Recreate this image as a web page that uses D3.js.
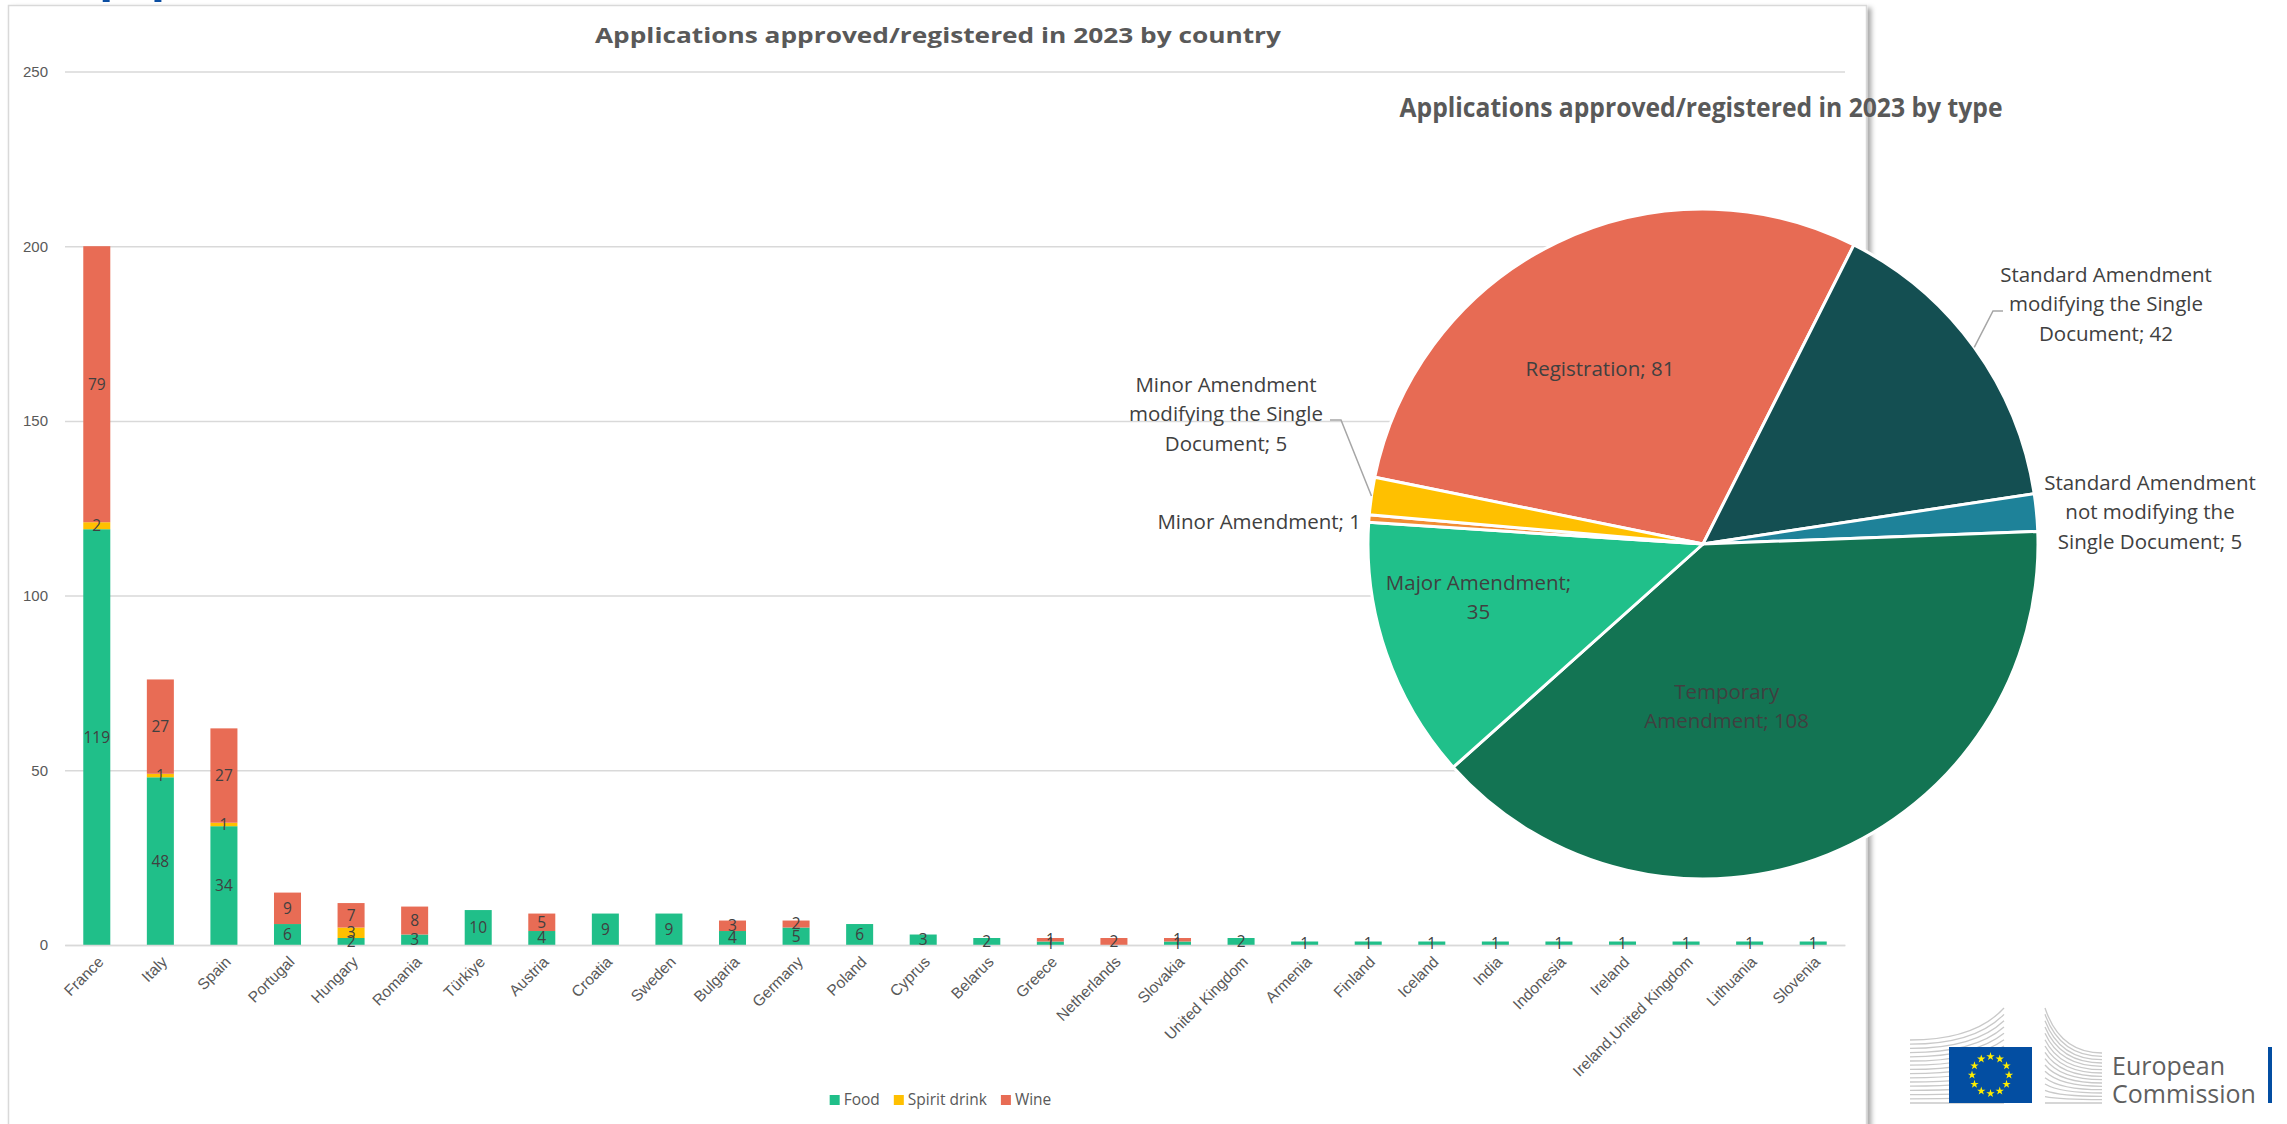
<!DOCTYPE html>
<html>
<head>
<meta charset="utf-8">
<script src="https://cdn.jsdelivr.net/npm/d3@7"></script>
<style>
  body { margin: 0; background: #fff; }
  svg { display: block; font-family: 'Open Sans', 'Noto Sans', sans-serif; }
</style>
</head>
<body>
<div id="vis"></div>
<script>
// bar chart data
const countries = ['France', 'Italy', 'Spain', 'Portugal', 'Hungary', 'Romania', 'Türkiye', 'Austria',
  'Croatia', 'Sweden', 'Bulgaria', 'Germany', 'Poland', 'Cyprus', 'Belarus', 'Greece', 'Netherlands',
  'Slovakia', 'United Kingdom', 'Armenia', 'Finland', 'Iceland', 'India', 'Indonesia', 'Ireland',
  'Ireland,United Kingdom', 'Lithuania', 'Slovenia'];
const food = [119, 48, 34, 6, 2, 3, 10, 4, 9, 9, 4, 5, 6, 3, 2, 1, 0, 1, 2, 1, 1, 1, 1, 1, 1, 1, 1, 1];
const spirit = [2, 1, 1, 0, 3, 0, 0, 0, 0, 0, 0, 0, 0, 0, 0, 0, 0, 0, 0, 0, 0, 0, 0, 0, 0, 0, 0, 0];
const wine = [79, 27, 27, 9, 7, 8, 0, 5, 0, 0, 3, 2, 0, 0, 0, 1, 2, 1, 0, 0, 0, 0, 0, 0, 0, 0, 0, 0];
const seriesNames = ['Food', 'Spirit drink', 'Wine'];
const yTicks = [0, 50, 100, 150, 200, 250];

// pie chart data
const types = ['Registration', 'Standard Amendment modifying the Single Document',
  'Standard Amendment not modifying the Single Document', 'Temporary Amendment',
  'Major Amendment', 'Minor Amendment', 'Minor Amendment modifying the Single Document'];
const typeCounts = [81, 42, 5, 108, 35, 1, 5];

const barColors = { 'Food': '#20bf89', 'Spirit drink': '#ffc000', 'Wine': '#e86c55' };
const pieColors = ['#e76b54', '#144f52', '#1e8299', '#137453', '#20c08a', '#f18c33', '#ffc000'];

// label placement for the pie (styling, relative to centroid or centre)
const pieLabels = [
  { wrap: 30, mode: 'in', k: 0.63, dx: -11, dy: 15 },
  { wrap: 20, mode: 'out', dx: 403, dy: -240, leader: [290, -233, 300] },
  { wrap: 20, mode: 'out', dx: 447, dy: -32 },
  { wrap: 14, mode: 'in', k: 0.5, dx: -39, dy: 7 },
  { wrap: 16, mode: 'in', k: 0.69, dx: -6, dy: -22 },
  { wrap: 30, mode: 'out', dx: -342, dy: -22, anchor: 'end' },
  { wrap: 20, mode: 'out', dx: -477, dy: -130, leader: [-362, -124, -373] }
];

const W = 2287, H = 1124;
const svg = d3.select('#vis').append('svg').attr('width', W).attr('height', H);

const defs = svg.append('defs');
defs.append('filter').attr('id', 'shadow').attr('x', '-5%').attr('y', '-5%').attr('width', '110%').attr('height', '110%')
  .append('feDropShadow')
  .attr('dx', 4).attr('dy', 3).attr('stdDeviation', 2.5)
  .attr('flood-color', '#000').attr('flood-opacity', 0.35);

// slide title peeking at the very top
svg.append('text')
  .attr('x', 42).attr('y', -21)
  .attr('textLength', 1240).attr('lengthAdjust', 'spacingAndGlyphs')
  .style('font-size', '95px').style('font-weight', 400).attr('fill', '#0b4ea2')
  .text('Applications in 2023 – EU (total)');

// chart frame
svg.append('rect')
  .attr('x', 8.5).attr('y', 5.5).attr('width', 1858).attr('height', 1250)
  .attr('fill', '#fff').attr('stroke', '#d9d9d9').attr('stroke-width', 1.5)
  .attr('filter', 'url(#shadow)');

svg.append('text')
  .attr('x', 938).attr('y', 43).attr('text-anchor', 'middle')
  .attr('textLength', 686).attr('lengthAdjust', 'spacingAndGlyphs')
  .style('font-size', '22px').style('font-weight', 700).attr('fill', '#595959')
  .text('Applications approved/registered in 2023 by country');

// ---- stacked bars ----
const plot = { left: 65, right: 1845, top: 71.5, bottom: 945 };

const x = d3.scaleBand()
  .domain(countries)
  .range([plot.left, plot.right])
  .paddingInner(0.575)
  .paddingOuter(0.2875);

const y = d3.scaleLinear().domain([0, 250]).range([plot.bottom, plot.top]);

const yAxis = svg.append('g')
  .attr('transform', `translate(${plot.left}, 0)`)
  .call(d3.axisLeft(y).tickValues(yTicks).tickSize(-(plot.right - plot.left)).tickPadding(17));
yAxis.select('.domain').remove();
yAxis.selectAll('line').attr('stroke', '#d9d9d9').attr('stroke-width', 1.5);
yAxis.selectAll('text').attr('fill', '#595959').style('font-size', '15px').style('font-family', null);

const rows = countries.map((c, i) => ({ country: c, 'Food': food[i], 'Spirit drink': spirit[i], 'Wine': wine[i] }));
const stacked = d3.stack().keys(seriesNames)(rows);

const layers = svg.append('g').selectAll('g.layer')
  .data(stacked)
  .join('g')
  .attr('class', 'layer')
  .attr('fill', d => barColors[d.key]);

layers.selectAll('rect')
  .data(d => d)
  .join('rect')
  .attr('x', d => x(d.data.country))
  .attr('width', x.bandwidth())
  .attr('y', d => y(d[1]))
  .attr('height', d => y(d[0]) - y(d[1]));

const xAxis = svg.append('g')
  .attr('transform', `translate(0, ${plot.bottom})`)
  .call(d3.axisBottom(x).tickSize(0).tickSizeOuter(0));
xAxis.select('.domain').attr('stroke', '#d9d9d9').attr('stroke-width', 1.5);
xAxis.selectAll('text')
  .attr('fill', '#595959').style('font-size', '15.5px').style('font-family', null)
  .attr('text-anchor', 'end')
  .attr('transform', 'translate(4, 14) rotate(-45)')
  .attr('y', 0).attr('dy', '0.35em');

// segment labels
const segLabels = svg.append('g')
  .style('font-size', '15.5px').attr('fill', '#404040').attr('text-anchor', 'middle');
stacked.forEach(layer => {
  segLabels.selectAll(null)
    .data(layer.filter(d => d[1] - d[0] > 0))
    .join('text')
    .attr('x', d => x(d.data.country) + x.bandwidth() / 2)
    .attr('y', d => (y(d[0]) + y(d[1])) / 2)
    .attr('dy', '0.35em')
    .text(d => d[1] - d[0]);
});

// legend
const legend = svg.append('g').style('font-size', '15.5px');
let lx = 0;
seriesNames.forEach(name => {
  const item = legend.append('g').attr('transform', `translate(${lx}, 0)`);
  item.append('rect').attr('x', 0).attr('y', -5).attr('width', 10).attr('height', 10).attr('fill', barColors[name]);
  const t = item.append('text').attr('x', 14).attr('dy', '0.35em').attr('fill', '#595959').text(name);
  lx += 14 + t.node().getComputedTextLength() + 14;
});
legend.attr('transform', `translate(${940.5 - (lx - 14) / 2}, 1100)`);

// ---- pie ----
const pc = { x: 1703, y: 544 };
const radius = 335;
const deg = Math.PI / 180;

const pie = d3.pie().sort(null).startAngle(-78.5 * deg).endAngle(281.5 * deg);
const arcs = pie(typeCounts);
const arc = d3.arc().innerRadius(0).outerRadius(radius);

const pieG = svg.append('g').attr('transform', `translate(${pc.x}, ${pc.y})`);
pieG.selectAll('path')
  .data(arcs)
  .join('path')
  .attr('d', arc)
  .attr('fill', (d, i) => pieColors[i])
  .attr('stroke', '#fff').attr('stroke-width', 3).attr('stroke-linejoin', 'round');

svg.append('text')
  .attr('x', 1701).attr('y', 117).attr('text-anchor', 'middle')
  .attr('textLength', 603).attr('lengthAdjust', 'spacingAndGlyphs')
  .style('font-size', '26px').style('font-weight', 700).attr('fill', '#595959')
  .text('Applications approved/registered in 2023 by type');

function wrap(str, max) {
  const words = str.split(' ');
  const lines = [];
  let cur = '';
  words.forEach(w => {
    const next = cur ? `${cur} ${w}` : w;
    if (next.length > max && cur) {
      lines.push(cur);
      cur = w;
    } else {
      cur = next;
    }
  });
  lines.push(cur);
  return lines;
}

const lineH = 29.5;
arcs.forEach((a, i) => {
  const cfg = pieLabels[i];
  let cx, cy;
  if (cfg.mode === 'in') {
    const c = d3.arc().innerRadius(radius * cfg.k).outerRadius(radius * cfg.k).centroid(a);
    cx = c[0] + cfg.dx;
    cy = c[1] + cfg.dy;
  } else {
    cx = cfg.dx;
    cy = cfg.dy;
  }
  const lines = wrap(`${types[i]}; ${typeCounts[i]}`, cfg.wrap);
  const t = pieG.append('text')
    .attr('text-anchor', cfg.anchor || 'middle')
    .attr('fill', '#404040')
    .style('font-size', '20.5px');
  lines.forEach((l, j) => {
    t.append('tspan')
      .attr('x', cx)
      .attr('y', cy + (j - (lines.length - 1) / 2) * lineH)
      .attr('dy', '0.35em')
      .text(l);
  });

  if (cfg.leader) {
    const mid = (a.startAngle + a.endAngle) / 2;
    const p0 = [radius * Math.sin(mid), -radius * Math.cos(mid)];
    const [ex, ey, endX] = cfg.leader;
    pieG.append('path')
      .attr('d', d3.line()([p0, [ex, ey], [endX, ey]]))
      .attr('fill', 'none').attr('stroke', '#a6a6a6').attr('stroke-width', 1.5);
  }
});

// ---- European Commission logo ----
const logo = svg.append('g').attr('stroke', '#c9c9c9').attr('stroke-width', 1.3).attr('fill', 'none');
d3.range(16).forEach(i => {
  const t = i / 15;
  const yl = 1040 + t * 63;
  const yr = 1008 + t * 95;
  logo.append('path').attr('d', `M1910,${yl} Q1975,${yl} 2004,${yr}`);
});
d3.range(16).forEach(i => {
  const t = i / 15;
  const yl = 1008 + t * 95;
  const yr = 1053 + t * 50;
  logo.append('path').attr('d', `M2045,${yl} Q2060,${yr} 2102,${yr}`);
});

svg.append('rect').attr('x', 1949).attr('y', 1047).attr('width', 83).attr('height', 56).attr('fill', '#034ea2');
const star = d3.symbol().type(d3.symbolStar).size(22);
svg.append('g').selectAll('path')
  .data(d3.range(12))
  .join('path')
  .attr('d', star)
  .attr('fill', '#ffed00')
  .attr('transform', i => `translate(${1990.5 + 18.5 * Math.sin(i * 30 * deg)}, ${1075 - 18.5 * Math.cos(i * 30 * deg)})`);

svg.append('text').attr('x', 2112).attr('y', 1075).attr('fill', '#5f5f5f').style('font-size', '25px').text('European');
svg.append('text').attr('x', 2112).attr('y', 1103).attr('fill', '#5f5f5f').style('font-size', '25px').text('Commission');
svg.append('rect').attr('x', 2268).attr('y', 1047).attr('width', 4).attr('height', 56).attr('fill', '#034ea2');
</script>
</body>
</html>
